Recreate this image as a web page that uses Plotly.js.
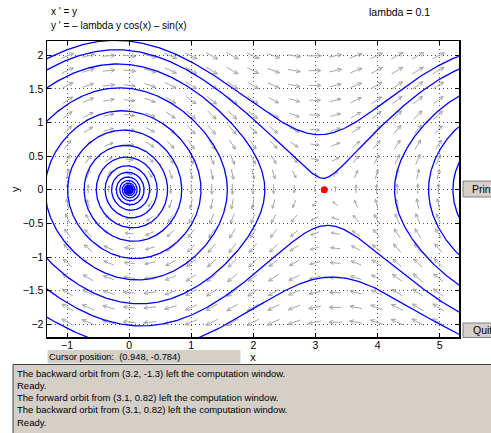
<!DOCTYPE html>
<html><head><meta charset="utf-8">
<script src="https://cdn.plot.ly/plotly-3.0.1.min.js"></script>
<style>body{margin:0;padding:0;background:#fff;overflow:hidden}#plot{width:491px;height:433px}</style>
</head><body><div id="plot"></div>
<script>
// ---- chart content ----
const lambdaValue = 0.1;
const xRange = [-1.322, 5.31];
const yRange = [-2.19, 2.213];
const xTickValues = [-1, 0, 1, 2, 3, 4, 5];
const yTickValues = [-2, -1.5, -1, -0.5, 0, 0.5, 1, 1.5, 2];
const equilibriumX = [0, Math.PI];
const equilibriumY = [0, 0];
const orbitStartX = [3.2, 3.1, 3.14, 3.2];
const orbitStartY = [-1.3, 0.82, 0.17, -0.53];
const fieldColumns = 20;
const fieldRows = 20;
const xTitle = "x";
const yTitle = "y";
const equationLines = ["x ' = y", "y ' = \u2013 lambda y cos(x) \u2013 sin(x)"];
const parameterText = "lambda = 0.1";
const cursorText = "Cursor position:  (0.948, -0.784)";
const messageLines = [
  "The backward orbit from (3.2, -1.3) left the computation window.",
  "Ready.",
  "The forward orbit from (3.1, 0.82) left the computation window.",
  "The backward orbit from (3.1, 0.82) left the computation window.",
  "Ready."
];

// ---- geometry ----
const W = 491, H = 433;
const M = {l: 47, r: 32, t: 41, b: 96};
const plotW = W - M.l - M.r, plotH = H - M.t - M.b;
const sx = plotW / (xRange[1] - xRange[0]);
const sy = plotH / (yRange[1] - yRange[0]);
const px2paper = p => (p - M.l) / plotW;
const py2paper = p => 1 - (p - M.t) / plotH;

function field(x, y) { return [y, -lambdaValue * y * Math.cos(x) - Math.sin(x)]; }

// computation window
const dX = xRange[1] - xRange[0], dY = yRange[1] - yRange[0];
const cwin = [xRange[0] - dX, xRange[1] + dX, yRange[0] - dY, yRange[1] + dY];

function integrate(x0, y0, dir) {
  const h = 0.01 * dir;
  let x = x0, y = y0;
  const px = [x], py = [y];
  for (let n = 0; n < 30000; n++) {
    const k1 = field(x, y);
    const k2 = field(x + h/2*k1[0], y + h/2*k1[1]);
    const k3 = field(x + h/2*k2[0], y + h/2*k2[1]);
    const k4 = field(x + h*k3[0], y + h*k3[1]);
    x += h/6*(k1[0]+2*k2[0]+2*k3[0]+k4[0]);
    y += h/6*(k1[1]+2*k2[1]+2*k3[1]+k4[1]);
    px.push(x); py.push(y);
    if (x < cwin[0] || x > cwin[1] || y < cwin[2] || y > cwin[3]) break;
    if (Math.hypot(k1[0], k1[1]) < 1e-4) break;
  }
  return [px, py];
}

const orbitX = [], orbitY = [];
for (let k = 0; k < orbitStartX.length; k++) {
  const b = integrate(orbitStartX[k], orbitStartY[k], -1);
  const f = integrate(orbitStartX[k], orbitStartY[k], 1);
  const xs = b[0].slice().reverse().concat(f[0].slice(1));
  const ys = b[1].slice().reverse().concat(f[1].slice(1));
  let gap = false;
  for (let i = 0; i < xs.length; i++) {
    const inside = xs[i] > xRange[0]-0.3 && xs[i] < xRange[1]+0.3 && ys[i] > yRange[0]-0.3 && ys[i] < yRange[1]+0.3;
    if (inside) { orbitX.push(xs[i]); orbitY.push(ys[i]); gap = false; }
    else if (!gap) { orbitX.push(null); orbitY.push(null); gap = true; }
  }
  orbitX.push(null); orbitY.push(null);
}

// direction field arrows (length grows with speed, compressed)
const grid = [];
let mMax = 0;
for (let i = 1; i < fieldColumns; i++) {
  for (let j = 1; j < fieldRows; j++) {
    const gx = xRange[0] + i * dX / fieldColumns;
    const gy = yRange[0] + j * dY / fieldRows;
    const v = field(gx, gy);
    const u = v[0] * sx, w = v[1] * sy;
    const m = Math.hypot(u, w);
    mMax = Math.max(mMax, m);
    grid.push([gx, gy, u, w, m]);
  }
}
const arrowX = [], arrowY = [];
const Lmax = 13.5, headA = 0.45;
grid.forEach(([gx, gy, u, w, m]) => {
  if (m < 1e-9) return;
  const len = Lmax * Math.pow(m / mMax, 0.35);
  const headL = Math.max(2, 0.36 * len);
  const ux = u / m, uy = w / m;
  const tx = gx + ux * len/2 / sx, ty = gy + uy * len/2 / sy;
  const bx = gx - ux * len/2 / sx, by = gy - uy * len/2 / sy;
  arrowX.push(bx, tx, null); arrowY.push(by, ty, null);
  for (const s of [1, -1]) {
    const ca = Math.cos(Math.PI - s*headA), sa = Math.sin(Math.PI - s*headA);
    const hx = ux*ca - uy*sa, hy = ux*sa + uy*ca;
    arrowX.push(tx, tx + hx*headL/sx, null); arrowY.push(ty, ty + hy*headL/sy, null);
  }
});

const traces = [
  {x: arrowX, y: arrowY, mode: 'lines', line: {color: '#a6a6a6', width: 1}, hoverinfo: 'skip'},
  {x: equilibriumX, y: equilibriumY, mode: 'markers', marker: {color: '#ff0000', size: 7}, hoverinfo: 'skip'},
  {x: orbitX, y: orbitY, mode: 'lines', line: {color: '#0000ff', width: 1.3}, hoverinfo: 'skip'}
];

const font = 'Liberation Sans, Arial, sans-serif';
const gray = '#d4d0c8';
function note(x, y, text, size) {
  return {x: px2paper(x), y: py2paper(y), xref: 'paper', yref: 'paper', xanchor: 'left', yanchor: 'middle',
    text: text, showarrow: false, borderpad: 0, font: {family: font, size: size, color: '#000'}};
}
const annotations = [
  note(50, 12, equationLines[0], 10),
  note(50, 25, equationLines[1], 10),
  note(368, 12, parameterText, 10.5),
  note(48, 356.5, cursorText, 9.3),
  note(471, 189, 'Print', 10.5),
  note(472, 330, 'Quit', 10.5),
  Object.assign(note(8, 189, yTitle, 11), {textangle: -90})
];
messageLines.forEach((t, i) => annotations.push(note(16, 373 + i * 12.3, t, 9.5)));

function box(x0, y0, x1, y1, fill, line) {
  return {type: 'rect', xref: 'paper', yref: 'paper', layer: 'above', x0: px2paper(x0), x1: px2paper(x1), y0: py2paper(y1), y1: py2paper(y0),
    fillcolor: fill, line: {color: line || fill, width: 1}};
}
const shapes = [
  box(48, 350.5, 240, 363, gray),
  box(13, 364.5, 492, 434, gray, '#404040'),
  box(463, 181, 492, 197, gray, '#808080'),
  box(463, 323, 492, 337.5, gray, '#808080')
];

const axisCommon = {showline: true, mirror: 'ticks', linecolor: '#000', linewidth: 1.5, ticks: 'inside', ticklen: 4,
  tickcolor: '#000', showgrid: true, gridcolor: '#555', griddash: '1px,3px', gridwidth: 1, zeroline: false,
  tickfont: {family: font, size: 10.5, color: '#000'}};

const layout = {
  width: W, height: H, margin: M, paper_bgcolor: '#fff', plot_bgcolor: '#fff', showlegend: false,
  xaxis: Object.assign({}, axisCommon, {range: xRange, tickvals: xTickValues, ticklabelstandoff: -2,
    title: {text: xTitle, font: {family: font, size: 11, color: '#000'}, standoff: 2}}),
  yaxis: Object.assign({}, axisCommon, {range: yRange, tickvals: yTickValues}),
  annotations: annotations, shapes: shapes
};

Plotly.newPlot('plot', traces, layout, {staticPlot: true, displayModeBar: false});
</script></body></html>
